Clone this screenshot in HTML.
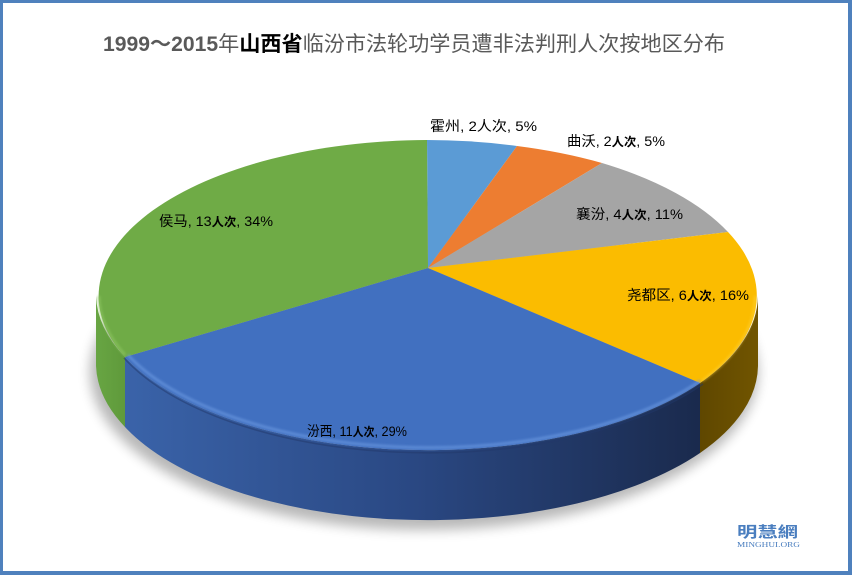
<!DOCTYPE html>
<html>
<head>
<meta charset="utf-8">
<style>
  html,body{margin:0;padding:0;background:#fff;}
  body{width:852px;height:575px;overflow:hidden;}
  svg{display:block;}
  text{font-family:"Liberation Sans","Noto Sans CJK SC",sans-serif;}
</style>
</head>
<body>
<svg width="852" height="575" viewBox="0 0 852 575" xmlns="http://www.w3.org/2000/svg">
  <defs>
    <filter id="blur" x="-20%" y="-20%" width="140%" height="140%">
      <feGaussianBlur stdDeviation="6"/>
    </filter>
    <filter id="blur2" x="-10%" y="-10%" width="120%" height="120%">
      <feGaussianBlur stdDeviation="1.2"/>
    </filter>
    <linearGradient id="gBlue" x1="125" y1="0" x2="700" y2="0" gradientUnits="userSpaceOnUse">
      <stop offset="0" stop-color="#3a63a9"/>
      <stop offset="0.5" stop-color="#2a4883"/>
      <stop offset="1" stop-color="#1a2a4d"/>
    </linearGradient>
    <linearGradient id="gGreen" x1="96" y1="0" x2="125" y2="0" gradientUnits="userSpaceOnUse">
      <stop offset="0" stop-color="#68a543"/>
      <stop offset="1" stop-color="#5f9a3b"/>
    </linearGradient>
    <linearGradient id="gYellow" x1="700" y1="0" x2="758" y2="0" gradientUnits="userSpaceOnUse">
      <stop offset="0" stop-color="#5f4700"/>
      <stop offset="1" stop-color="#715500"/>
    </linearGradient>
  </defs>

  <!-- background & border -->
  <rect x="0" y="0" width="852" height="575" fill="#fff"/>
  <rect x="1.5" y="1.5" width="848" height="571" fill="none" stroke="#4f81bd" stroke-width="3"/>
  <rect x="848" y="0" width="4" height="575" fill="#4f81bd"/>
  <rect x="0" y="571" width="852" height="4" fill="#4f81bd"/>

  <!-- title -->
  <text x="103" y="51" font-size="21" fill="#595959" textLength="622" lengthAdjust="spacingAndGlyphs"><tspan font-weight="bold">1999～2015</tspan><tspan>年</tspan><tspan fill="#000" font-weight="bold">山西省</tspan><tspan>临汾市法轮功学员遭非法判刑人次按地区分布</tspan></text>

  <!-- shadow -->
  <ellipse cx="424" cy="372" rx="334" ry="158" fill="#000" opacity="0.28" filter="url(#blur)"/>

  <!-- sides -->
  <path d="M125,357 A331,156 0 0 1 96,296 L96,366 A331,156 0 0 0 125,427 Z" fill="url(#gGreen)"/>
  <path d="M700,383 A331,156 0 0 1 125,357 L125,427 A331,156 0 0 0 700,453 Z" fill="url(#gBlue)"/>
  <path d="M758,296 A331,156 0 0 1 700,383 L700,453 A331,156 0 0 0 758,366 Z" fill="url(#gYellow)"/>

  <!-- tops -->
  <path d="M428,268 L427,140 A331,156 0 0 1 517,146 Z" fill="#5b9bd5"/>
  <path d="M428,268 L517,146 A331,156 0 0 1 602,163 Z" fill="#ed7d31"/>
  <path d="M428,268 L602,163 A331,156 0 0 1 728,232 Z" fill="#a5a5a5"/>
  <path d="M428,268 L728,232 A331,156 0 0 1 700,383 Z" fill="#fbbc00"/>
  <path d="M428,268 L700,383 A331,156 0 0 1 125,357 Z" fill="#4170c0"/>
  <path d="M428,268 L125,357 A331,156 0 0 1 427,140 Z" fill="#6fab46"/>

  <!-- bevel highlights -->
  <path d="M700,381 A328,153 0 0 1 128,355" fill="none" stroke="#6a98e0" stroke-width="2.5" opacity="0.8" filter="url(#blur2)"/>
  <path d="M125,355 A328,153 0 0 1 99,296" fill="none" stroke="#8cc460" stroke-width="2.5" opacity="0.8" filter="url(#blur2)"/>
  <path d="M755,296 A328,153 0 0 1 702,381" fill="none" stroke="#ffd640" stroke-width="2" opacity="0.6" filter="url(#blur2)"/>
  <path d="M703,384 A331,156 0 0 1 124,358" fill="none" stroke="#22386a" stroke-width="1.5" opacity="0.5"/>

  <!-- labels -->
  <g font-size="14" fill="#000">
    <text x="430" y="131" textLength="107" lengthAdjust="spacingAndGlyphs">霍州, 2人次, 5%</text>
    <text x="567" y="146" textLength="98" lengthAdjust="spacingAndGlyphs">曲沃, 2<tspan font-size="12" font-weight="bold">人次</tspan>, 5%</text>
    <text x="576" y="219" textLength="107" lengthAdjust="spacingAndGlyphs">襄汾, 4<tspan font-size="12" font-weight="bold">人次</tspan>, 11%</text>
    <text x="627" y="300" textLength="122" lengthAdjust="spacingAndGlyphs">尧都区, 6<tspan font-size="12" font-weight="bold">人次</tspan>, 16%</text>
    <text x="307" y="436" textLength="100" lengthAdjust="spacingAndGlyphs">汾西, 11<tspan font-size="12" font-weight="bold">人次</tspan>, 29%</text>
    <text x="159" y="226" textLength="114" lengthAdjust="spacingAndGlyphs">侯马, 13<tspan font-size="12" font-weight="bold">人次</tspan>, 34%</text>
  </g>

  <!-- watermark -->
  <text x="737" y="537" font-size="15" font-weight="bold" fill="#4a7ebf" textLength="61" lengthAdjust="spacingAndGlyphs">明慧網</text>
  <text x="737" y="547" font-size="7.5" fill="#4a7ebf" font-family="Liberation Serif, serif" textLength="63" lengthAdjust="spacingAndGlyphs" style="font-family:'Liberation Serif',serif">MINGHUI.ORG</text>
</svg>
</body>
</html>
